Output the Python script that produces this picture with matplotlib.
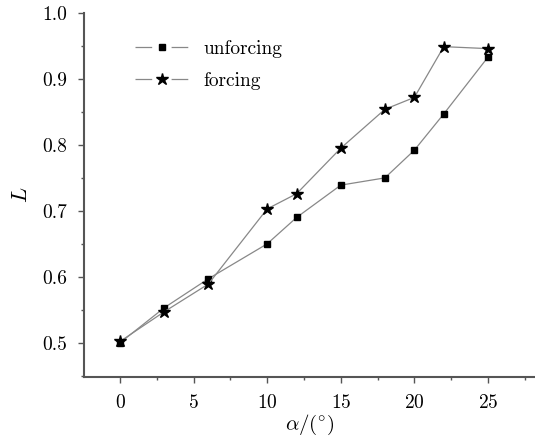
import matplotlib
matplotlib.use('Agg')

import matplotlib.pyplot as plt
from matplotlib.lines import Line2D
from matplotlib.ticker import MultipleLocator

plt.rcParams['font.family'] = 'cmr10'
plt.rcParams['mathtext.fontset'] = 'cm'
plt.rcParams['axes.formatter.use_mathtext'] = True
plt.rcParams['lines.scale_dashes'] = False

alpha = [0, 3, 6, 10, 12, 15, 18, 20, 22, 25]
unforcing = [0.500, 0.553, 0.597, 0.650, 0.690, 0.739, 0.750, 0.792, 0.847, 0.933]
forcing = [0.502, 0.547, 0.589, 0.703, 0.726, 0.795, 0.854, 0.872, 0.949, 0.946]

fig = plt.figure(figsize=(5.35, 4.41), dpi=100)
ax = fig.add_axes([0.157, 0.145, 0.843, 0.8255])

ax.plot(alpha, unforcing, color='#888888', lw=0.9, marker='s', ms=4.5,
        mfc='black', mec='black')
ax.plot(alpha, forcing, color='#888888', lw=0.9, marker='*', ms=9,
        mfc='black', mec='black')

ax.set_xlim(-2.45, 28.2)
ax.set_ylim(0.448, 1.0)
ax.xaxis.set_major_locator(MultipleLocator(5))
ax.xaxis.set_minor_locator(MultipleLocator(2.5))
ax.yaxis.set_major_locator(MultipleLocator(0.1))
ax.yaxis.set_minor_locator(MultipleLocator(0.05))
ax.yaxis.set_major_formatter(plt.FuncFormatter(lambda v, p: '%.1f' % v))

for s in ['top', 'right']:
    ax.spines[s].set_visible(False)
for s in ['left', 'bottom']:
    ax.spines[s].set_linewidth(1.5)
    ax.spines[s].set_color('#555555')
ax.tick_params(which='both', direction='out', width=1, color='#555555', labelsize=14)
ax.tick_params(which='major', length=4, pad=8)
ax.tick_params(which='minor', length=2.5)

ax.set_xlabel(r'$\alpha/(^{\circ})$', fontsize=15, labelpad=1)
ax.set_ylabel(r'$L$', fontsize=16, labelpad=8)

# legend handles with a gap around the marker
h1 = Line2D([], [], color='#888888', lw=0.9, marker='s', ms=4.5,
            mfc='black', mec='black', dashes=(12, 14))
h2 = Line2D([], [], color='#888888', lw=0.9, marker='*', ms=9,
            mfc='black', mec='black', dashes=(12, 14))
ax.legend([h1, h2], ['unforcing', 'forcing'], loc='upper left',
          bbox_to_anchor=(0.075, 0.975), frameon=False, fontsize=14,
          handlelength=2.7, labelspacing=0.75, handletextpad=0.8)

fig.savefig('out.png', dpi=100)
